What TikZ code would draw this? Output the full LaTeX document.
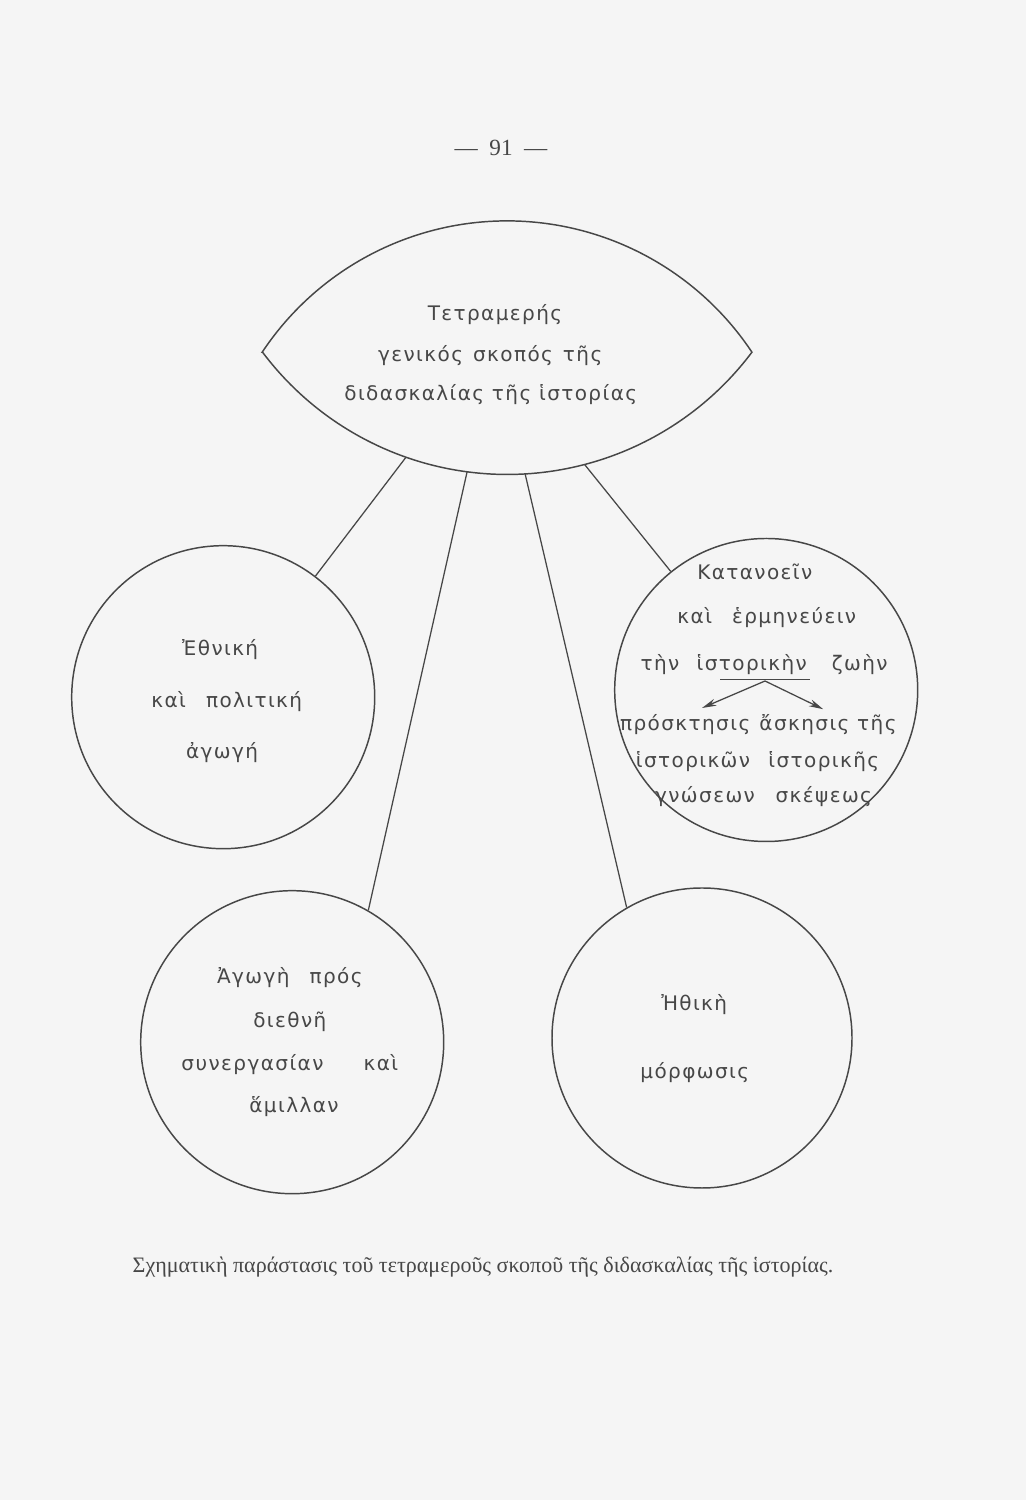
\documentclass[tikz,border=0pt]{standalone}
\usepackage{fontspec}
\setmainfont{Liberation Serif}
\newfontfamily\lettering[LetterSpace=7]{DejaVu Sans}
\usetikzlibrary{arrows,arrows.meta}

\definecolor{ink}{gray}{0.28}
\definecolor{paper}{gray}{0.96}

\tikzset{
	ring/.style={circle, draw=ink, line width=0.7pt, minimum size=5.05cm, inner sep=0pt},
	lett/.style={font=\lettering\fontsize{9.5}{11}\selectfont, text=ink, inner sep=1pt},
	spoke/.style={draw=ink, line width=0.6pt}
}

\begin{document}
\begin{tikzpicture}
		\path[fill=paper] (0,0) rectangle (17.1,25);
		\node[text=ink,font=\fontsize{11}{13}\selectfont] (pagenum) at (8.35,22.53) {—\enskip 91\enskip —};
		
		% lens at the top
		\coordinate (tl) at (4.37,19.13);
		\draw[spoke,line width=0.7pt] (tl) arc[start angle=146.4, end angle=33.6, radius=4.9] arc[start angle=-36.9, end angle=-143.1, radius=5.1] -- cycle;
		\coordinate (lc) at (8.45,22.19);
		\path (lc) ++(-109.3:5.1) coordinate (s1);
		\path (lc) ++(-97.5:5.1) coordinate (s2);
		\path (lc) ++(-86.6:5.1) coordinate (s3);
		\path (lc) ++(-75.3:5.1) coordinate (s4);
		
		\node[lett] (tetra1) at (8.25,19.75) {Τετραμερής};
		\node[lett] (tetra2) at (8.17,19.08) {γενικός\enskip σκοπός\enskip τῆς};
		\node[lett] (tetra3) at (8.18,18.42) {διδασκαλίας τῆς ἱστορίας};
		
		% four circles
		\node[ring] (ethniki) at (3.72,13.38) {};
		\node[ring] (katanoein) at (12.77,13.5) {};
		\node[ring] (agogi) at (4.87,7.63) {};
		\node[ring,minimum size=5cm] (ithiki) at (11.7,7.7) {};
		
		\draw[spoke] (s1) -- (ethniki);
		\draw[spoke] (s2) -- (agogi.60);
		\draw[spoke] (s3) -- (ithiki.120);
		\draw[spoke] (s4) -- (katanoein);
		
		\node[lett] (eth1) at (3.67,14.17) {Ἐθνική};
		\node[lett] (eth2) at (3.78,13.3) {καὶ\quad πολιτική};
		\node[lett] (eth3) at (3.7,12.45) {ἀγωγή};
		
		\node[lett] (kat1) at (12.58,15.47) {Κατανοεῖν};
		\node[lett] (kat2) at (12.78,14.7) {καὶ\quad ἑρμηνεύειν};
		\node[lett] (kat3) at (11.0,13.92) {τὴν};
		\node[lett] (kat4) at (12.53,13.92) {ἱστορικὴν};
		\node[lett] (kat5) at (14.33,13.92) {ζωὴν};
		\coordinate (ul) at (12.0,13.67);
		\coordinate (ur) at (13.5,13.67);
		\coordinate (fork) at (12.75,13.65);
		\coordinate (tipl) at (11.7,13.2);
		\coordinate (tipr) at (13.72,13.18);
		\draw[spoke] (ul) -- (ur);
		\draw[spoke,-{Stealth[length=2.4mm,width=1.2mm]}] (fork) -- (tipl);
		\draw[spoke,-{Stealth[length=2.4mm,width=1.2mm]}] (fork) -- (tipr);
		\node[lett] (kat6) at (11.42,12.92) {πρόσκτησις};
		\node[lett] (kat7) at (13.8,12.92) {ἄσκησις τῆς};
		\node[lett] (kat8) at (11.55,12.3) {ἱστορικῶν};
		\node[lett] (kat9) at (13.73,12.3) {ἱστορικῆς};
		\node[lett] (kat10) at (11.75,11.72) {γνώσεων};
		\node[lett] (kat11) at (13.73,11.72) {σκέψεως};
		
		\node[lett] (ago1) at (4.83,8.7) {Ἀγωγὴ\quad πρός};
		\node[lett] (ago2) at (4.83,7.97) {διεθνῆ};
		\node[lett] (ago3) at (4.83,7.25) {συνεργασίαν\qquad καὶ};
		\node[lett] (ago4) at (4.9,6.55) {ἅμιλλαν};
		
		\node[lett] (ith1) at (11.57,8.25) {Ἠθικὴ};
		\node[lett] (ith2) at (11.58,7.13) {μόρφωσις};
		
		\node[text=ink,font=\fontsize{10.45}{12}\selectfont] (caption) at (8.05,3.88) {Σχηματικὴ παράστασις τοῦ τετραμεροῦς σκοποῦ τῆς διδασκαλίας τῆς ἱστορίας.};
	\end{tikzpicture}
\end{document}
